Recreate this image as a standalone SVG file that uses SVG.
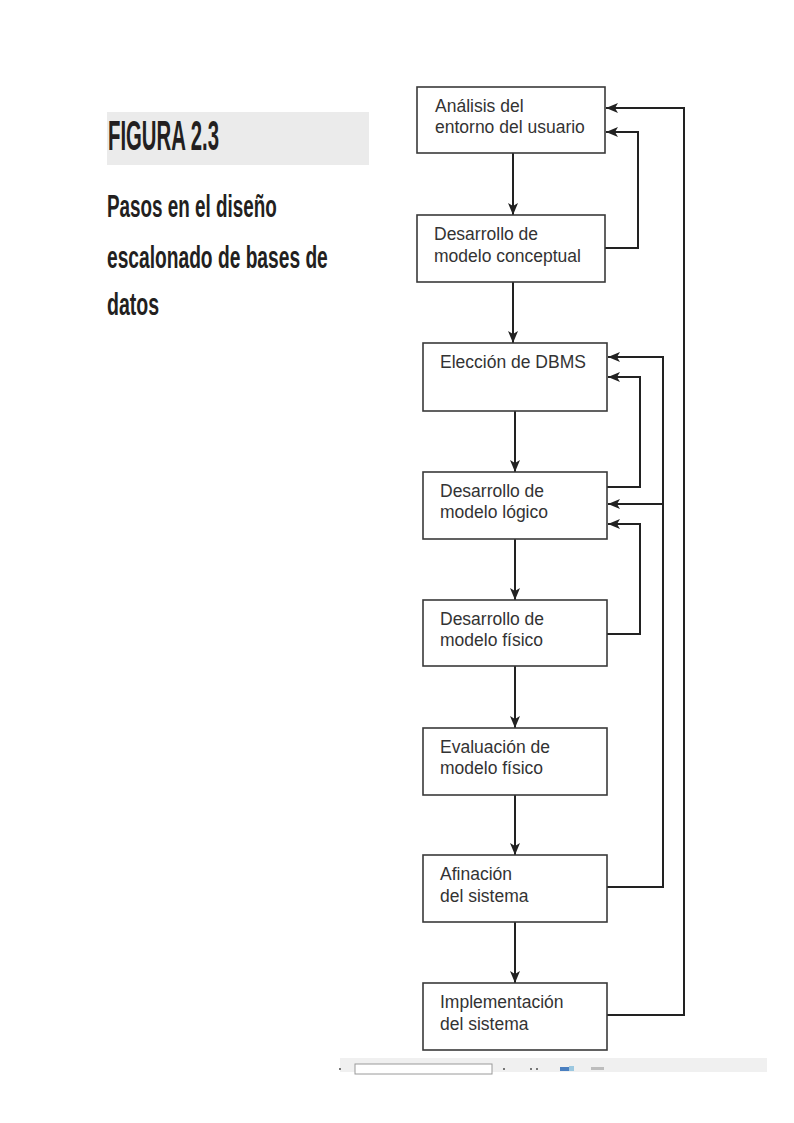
<svg xmlns="http://www.w3.org/2000/svg" width="794" height="1123" viewBox="0 0 794 1123">
<defs>
<style>
.box{fill:#fff;stroke:#3a3a3a;stroke-width:1.6}
.lbl{font-family:"Liberation Sans",Arial,sans-serif;font-size:17.5px;fill:#333}
.con{fill:none;stroke:#222;stroke-width:2}
.ttl{font-family:"Liberation Sans",Arial,sans-serif;font-weight:bold;fill:#231f20}
</style>
<marker id="ah" viewBox="0 0 12 10" refX="12" refY="5" markerWidth="12" markerHeight="10" orient="auto" markerUnits="userSpaceOnUse">
<path d="M0,0 L12,5 L0,10 L3,5 z" fill="#222"/>
</marker>
</defs>
<rect width="794" height="1123" fill="#fff"/>

<g id="title">
<rect x="107" y="112" width="262" height="53" fill="#ebebeb"/>
<text class="ttl" transform="translate(108,150) scale(0.5,1)" x="0" y="0" font-size="42" textLength="222" lengthAdjust="spacingAndGlyphs">FIGURA 2.3</text>
<text class="ttl" transform="translate(107,217) scale(0.6,1)" x="0" y="0" font-size="31" textLength="283" lengthAdjust="spacingAndGlyphs">Pasos en el diseño</text>
<text class="ttl" transform="translate(107,268) scale(0.6,1)" x="0" y="0" font-size="31" textLength="368" lengthAdjust="spacingAndGlyphs">escalonado de bases de</text>
<text class="ttl" transform="translate(107,315) scale(0.6,1)" x="0" y="0" font-size="31" textLength="87" lengthAdjust="spacingAndGlyphs">datos</text>
</g>

<g id="connectors">
<path class="con" d="M513,153 V215" marker-end="url(#ah)"/>
<path class="con" d="M513,282 V343" marker-end="url(#ah)"/>
<path class="con" d="M515,411 V472" marker-end="url(#ah)"/>
<path class="con" d="M515,539 V600" marker-end="url(#ah)"/>
<path class="con" d="M515,666 V728" marker-end="url(#ah)"/>
<path class="con" d="M515,795 V855" marker-end="url(#ah)"/>
<path class="con" d="M515,922 V983" marker-end="url(#ah)"/>
<path class="con" d="M607,1015 H684 V108 H606" marker-end="url(#ah)"/>
<path class="con" d="M605,248 H638 V132 H606" marker-end="url(#ah)"/>
<path class="con" d="M607,887 H663 V357 H608" marker-end="url(#ah)"/>
<path class="con" d="M663,504 H608" marker-end="url(#ah)"/>
<path class="con" d="M607,487 H640 V377 H608" marker-end="url(#ah)"/>
<path class="con" d="M607,634 H640 V524 H608" marker-end="url(#ah)"/>
</g>

<g id="n1"><rect class="box" x="417" y="87" width="188" height="66"/>
<text class="lbl" x="435" y="112">Análisis del</text><text class="lbl" x="435" y="133">entorno del usuario</text></g>
<g id="n2"><rect class="box" x="417" y="215" width="188" height="67"/>
<text class="lbl" x="434" y="240">Desarrollo de</text><text class="lbl" x="434" y="262">modelo conceptual</text></g>
<g id="n3"><rect class="box" x="423" y="343" width="184" height="68"/>
<text class="lbl" x="440" y="368">Elección de DBMS</text></g>
<g id="n4"><rect class="box" x="423" y="472" width="184" height="67"/>
<text class="lbl" x="440" y="497">Desarrollo de</text><text class="lbl" x="440" y="518">modelo lógico</text></g>
<g id="n5"><rect class="box" x="423" y="600" width="184" height="66"/>
<text class="lbl" x="440" y="625">Desarrollo de</text><text class="lbl" x="440" y="646">modelo físico</text></g>
<g id="n6"><rect class="box" x="423" y="728" width="184" height="67"/>
<text class="lbl" x="440" y="753">Evaluación de</text><text class="lbl" x="440" y="774">modelo físico</text></g>
<g id="n7"><rect class="box" x="423" y="855" width="184" height="67"/>
<text class="lbl" x="440" y="880">Afinación</text><text class="lbl" x="440" y="902">del sistema</text></g>
<g id="n8"><rect class="box" x="423" y="983" width="184" height="67"/>
<text class="lbl" x="440" y="1008">Implementación</text><text class="lbl" x="440" y="1030">del sistema</text></g>

<g id="strip">
<rect x="340" y="1058" width="427" height="14" fill="#f0f0f0"/>
<rect x="355" y="1064" width="137" height="10" fill="#fff" stroke="#9a9a9a" stroke-width="1"/>
<rect x="339" y="1068" width="2" height="2" fill="#777"/>
<rect x="503" y="1068" width="2" height="2" fill="#777"/>
<rect x="530" y="1068" width="2" height="2" fill="#777"/>
<rect x="536" y="1068" width="2" height="2" fill="#777"/>
<rect x="560" y="1067" width="9" height="4" fill="#4a7fc0"/>
<rect x="569" y="1066" width="5" height="5" fill="#9cc8e0"/>
<rect x="591" y="1067" width="13" height="3" fill="#bdbdbd"/>
</g>
</svg>
